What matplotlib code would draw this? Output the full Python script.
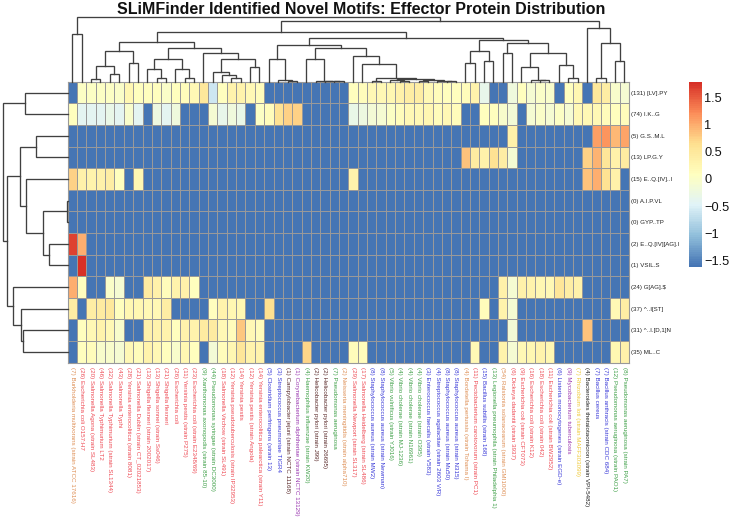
import matplotlib
matplotlib.use('Agg')
import numpy as np
import matplotlib.pyplot as plt
from matplotlib.colors import LinearSegmentedColormap

plt.rcParams['font.family'] = ['Liberation Sans', 'DejaVu Sans']

B = -1.61  # the solid blue cells

motifs = ['(131) [LV].PY', '(74) I.K..G', '(5) G.S..M.L', '(13) LP.G.Y', '(15) E..Q.[IV]..I',
          '(0) A.I.P.VL', '(0) GYP..TP', '(2) E..Q.[IV][AG].I', '(1) VSIL.S', '(24) G[AG].$',
          '(37) ^..I[ST]', '(31) ^..I.[D,1]N', '(35) ML..C']

strains = ['(7) Burkholderia multivorans (strain ATCC 17616)', '(26) Escherichia coli O157:H7',
           '(20) Salmonella Agona (strain SL483)', '(46) Salmonella Typhimurium LT2',
           '(32) Salmonella Typhimurium (strain SL1344)', '(43) Salmonella Typhi',
           '(28) Yersinia enterocolitica (strain 8081)', '(21) Salmonella Dublin (strain CT_02021853)',
           '(13) Shigella flexneri (strain 2002017)', '(13) Shigella sonnei (strain Ss046)',
           '(21) Shigella flexneri', '(26) Escherichia coli', '(11) Yersinia pestis (strain P275)',
           '(23) Escherichia coli (strain E2348/69)', '(9) Xanthomonas axonopodis (strain 85-10)',
           '(44) Pseudomonas syringae (strain DC3000)', '(18) Salmonella Virchow (strain SL491)',
           '(12) Yersinia pseudotuberculosis (strain IP32953)', '(14) Yersinia pestis',
           '(12) Yersinia pestis (strain Angola)', '(14) Yersinia enterocolitica palearctica (strain Y11)',
           '(5) Clostridium perfringens (strain 13)', '(3) Streptococcus pneumoniae TIGR4',
           '(1) Campylobacter jejuni (strain NCTC 11168)', '(1) Corynebacterium diphtheriae (strain NCTC 13129)',
           '(4) Haemophilus influenzae (strain KW20)', '(2) Helicobacter pylori (strain J99)',
           '(2) Helicobacter pylori (strain 26695)', '(7) Pseudomonas aeruginosa',
           '(2) Neisseria meningitidis (strain alpha710)', '(29) Salmonella Newport (strain SL317)',
           '(17) Salmonella Heidelberg (strain SL486)', '(8) Staphylococcus aureus (strain MW2)',
           '(8) Staphylococcus aureus (strain Newman)', '(5) Vibrio vulnificus (strain YJ016)',
           '(4) Vibrio cholerae (strain MJ-1236)', '(4) Vibrio cholerae (strain N16961)',
           '(4) Vibrio cholerae (strain O395)', '(3) Enterococcus faecalis (strain V583)',
           '(4) Streptococcus agalactiae (strain 2603 V/R)', '(8) Staphylococcus aureus (strain Mu50)',
           '(8) Staphylococcus aureus (strain N315)', '(4) Bordetella pertussis (strain Tohama I)',
           '(11) Pectobacterium carotovorum (strain PC1)', '(15) Bacillus subtilis (strain 168)',
           '(13) Legionella pneumophila (strain Philadelphia 1)', '(54) Ralstonia solanacearum (strain GMI1000)',
           '(6) Dickeya dadantii (strain 3937)', '(9) Escherichia coli (strain CFT073)',
           '(16) Escherichia coli (strain K12)', '(18) Escherichia coli (strain 042)',
           '(11) Escherichia coli (strain BW2952)', '(6) Listeria monocytogenes (strain EGD-e)',
           '(9) Mycobacterium tuberculosis', '(7) Rhizobium loti (strain MAFF303099)',
           '(4) Bacteroides thetaiotaomicron (strain VPI-5482)', '(7) Bacillus cereus',
           '(7) Bacillus anthracis (strain CDC 684)', '(12) Pseudomonas aeruginosa (strain PAO1)',
           '(8) Pseudomonas aeruginosa (strain PA7)']

# one colour group per strain, left to right
strain_groups = list('o' + 'r' * 13 + 'gg' + 'r' * 5 + 'bb' + 'kpgkkgorrbb' + 'gggg' + 'bbbb'
                     + 'orbgor' + 'rrrr' + 'bpynbbgg')
group_colours = {'o': '#DE8F55', 'r': '#EE4B55', 'g': '#3FA048', 'b': '#3A3AD8', 'p': '#9A38B0',
                 'k': '#5A2A2A', 'y': '#EFC93A', 'n': '#222222'}

row1 = [B, .05, .05, .05, .05, 0, .25, .1, .1, .1, 0, .1, .15, .2, .5, -.6, .1, .3, .3, .2, .15,
        B, B, B, B, B, B, B, B, B, .1, .15, .2, .2, .25, .35, .4, .4, .2, .15, .1, .1, .15, .3,
        -.35, B, B, -.2, .1, -.1, 0, -.05, B, .1, .25, B, .5, .4, -.05, -.1]
row2 = [.1, -.4, -.4, -.4, -.3, -.4, -.05, -.4, B, -.25, -.4, -.2, B, B, B, -.1, -.35, -.2, -.3, B, .05,
        .15, .6, .75, .75, B, B, B, B, B, -.3, -.25, -.15, -.1, .05, .15, .2, .2, .25, .15, .2, .15,
        B, B, .1, .1, -.05, -.15, B, -.1, 0, -.1, .05, -.1, .2, .2, .2, .15, .1, .15]
row3 = [B] * 47 + [.35] + [B] * 8 + [1.1, 1.15, .9, 1.05]
row4 = [B] * 42 + [.85, .45, .35, .6, .4, -.1] + [B] * 7 + [.75, .95, .55, .35, .45]
row5 = [.75, .35, .3, .35, .4, .1, B, .25] + [B] * 22 + [.3] + [B] * 24 + [.85, 1.0, .6, .35, B]
row6 = [B] * 60
row7 = [B] * 60
row8 = [1.65, 1.0] + [B] * 58
row9 = [B, 1.75] + [B] * 58
row10 = [1.0, .1, B, B, 0, -.1, B, B, .45, .35, .15, .3, .35, .1] + [B] * 32 + \
        [.35, -.1, .35, .3, .25, .2, .55, .4, .35] + [B] * 5
row11 = [.4, B, .4, .45, .5, .1, .25, .25, .2, .2, .4, B, B, B, B, .1, .3, .25, .25, B, B, .65] + [B] * 22 + \
        [.15, B, .3, -.1] + [B] * 10 + [.2, .4]
row12 = [B, .1, .2, .3, .2, -.05, B, B, .35, .3, .3, .1, .3, .3, .45, .45, .2, .15, .8, .2, .15] + [B] * 26 + \
        [-.15] + [B] * 7 + [.85] + [B] * 4
row13 = [B, .1, .15, -.05, -.05, -.1, .2, .15, .3, .2, .1, -.05, .25, .1, B, -.15, .15, .25, .55, .3, .3,
         B, B, B, B, .7, B, B, B, B, .15, .15] + [B] * 11 + [.2, B, B, .3, -.1, .2, .25, .3, .25] + [B] * 6 + [.25, .35]

# dendrogram merges written as (height, left, right), leaves are 1-based positions
rows_tree = (65, (42.7, 1, 2),
             (61, (47.7, (32, 3, 4), (42, 5, (24.4, (0.3, 6, 7), (18.4, 8, 9)))),
              (55, 10, (46.7, 11, (44.7, 12, 13)))))

c3_8 = (31, (15.3, (3, 3, 4), (7.7, 5, 6)), (19, 7, 8))
c9_14 = (23, (12.3, 9, (4, 10, 11)), (13, 12, (4, 13, 14)))
c16_19 = (9.7, 16, (6.3, 17, (4, 18, 19)))
c15_21 = (28.7, 15, (22.3, c16_19, (14.3, 20, 21)))
c3_21 = (39.3, c3_8, (34, c9_14, c15_21))
c22_25 = (22.7, 22, (1.3, 23, (0.5, 24, 25)))
c26_30 = (22.3, 26, (0.2, 27, (0.2, 28, (0.2, 29, 30))))
c33_42 = (4, (1, 33, 34), (2.7, (1.5, 35, (0.7, 36, 37)), (2, (1, 38, 39), (1, 40, (0.5, 41, 42)))))
c31_42 = (25.7, 31, (18, 32, c33_42))
c22_42 = (36.7, c22_25, (33.7, c26_30, c31_42))
c43_46 = (31, (18.7, 43, 44), (21, 45, 46))
c49_52 = (15, 49, (2, 50, (1.5, 51, 52)))
c53_55 = (17, 53, (4, 54, 55))
c47_55 = (38.3, (28.3, 47, 48), (29, c49_52, c53_55))
c22_55 = (44.2, c22_42, (41.7, c43_46, c47_55))
c56_60 = (53.3, 56, (38.3, (4, 57, 58), (20.7, 59, 60)))
cols_tree = (64.7, (47.7, 1, 2), (61, (49.7, c3_21, c22_55), c56_60))

bar_ticks = [-1.5, -1, -0.5, 0, 0.5, 1, 1.5]
bar_labels = ['\u22121.5', '\u22121', '\u22120.5', '0', '0.5', '1', '1.5']

W, H = 730, 518


def pix_axes(fig, x0, y0, x1, y1):
    # axes from pixel box, y measured from the top
    return fig.add_axes([x0 / W, 1 - y1 / H, (x1 - x0) / W, (y1 - y0) / H])


def draw_tree(ax, node, horizontal):
    if not isinstance(node, tuple):
        return node - 0.5, 0
    h, a, b = node
    pa, ha = draw_tree(ax, a, horizontal)
    pb, hb = draw_tree(ax, b, horizontal)
    xs, ys = [pa, pa, pb, pb], [ha, h, h, hb]
    if horizontal:
        xs, ys = ys, xs
    ax.plot(xs, ys, color='#404040', lw=0.95, solid_joinstyle='miter', clip_on=False)
    return (pa + pb) / 2, h


matrix = np.array([row1, row2, row3, row4, row5, row6, row7, row8, row9, row10, row11, row12, row13])
cmap = LinearSegmentedColormap.from_list(
    'rdylbu', ['#4575B4', '#91BFDB', '#E0F3F8', '#FFFFBF', '#FEE090', '#FC8D59', '#D73027'], N=100)
vmin, vmax = -1.61, 1.78

fig = plt.figure(figsize=(W / 100, H / 100), dpi=100)

hm = pix_axes(fig, 67.7, 81.7, 629, 362.7)
hm.pcolormesh(np.arange(61), np.arange(14), matrix, cmap=cmap, vmin=vmin, vmax=vmax,
              edgecolors='#999999', linewidth=0.6)
hm.set_xlim(0, 60)
hm.set_ylim(13, 0)
for s in hm.spines.values():
    s.set_color('#999999')
    s.set_linewidth(0.8)
hm.xaxis.tick_bottom()
hm.set_xticks(np.arange(60) + 0.5)
hm.set_xticklabels(strains, rotation=270, ha='center', va='top', fontsize=4.5)
for lab, g in zip(hm.get_xticklabels(), strain_groups):
    lab.set_color(group_colours[g])
hm.yaxis.tick_right()
hm.set_yticks(np.arange(13) + 0.5)
hm.set_yticklabels(motifs, fontsize=4.4, color='#222222')
hm.tick_params(axis='both', length=0)
hm.tick_params(axis='x', pad=3.2)
hm.tick_params(axis='y', pad=1.5)

top = pix_axes(fig, 67.7, 15.7, 629, 81.7)
draw_tree(top, cols_tree, False)
top.set_xlim(0, 60)
top.set_ylim(0, 66)
top.axis('off')

left = pix_axes(fig, 1.7, 81.7, 67.7, 362.7)
draw_tree(left, rows_tree, True)
left.set_ylim(13, 0)
left.set_xlim(66, 0)
left.axis('off')

bar = pix_axes(fig, 689, 82, 701.7, 266.7)
levels = np.linspace(vmin, vmax, 101)
bar.pcolormesh([0, 1], levels, np.linspace(vmin, vmax, 100).reshape(-1, 1), cmap=cmap, vmin=vmin, vmax=vmax)
bar.set_ylim(vmin, vmax)
bar.set_xticks([])
bar.yaxis.tick_right()
bar.set_yticks(bar_ticks)
bar.set_yticklabels(bar_labels, fontsize=9.2, color='#111111')
bar.tick_params(axis='y', length=0, pad=2)
for s in bar.spines.values():
    s.set_visible(False)

fig.text(361 / W, 1 - 9 / H, 'SLiMFinder Identified Novel Motifs: Effector Protein Distribution',
         ha='center', va='center', fontsize=11.5, fontweight='bold', color='#111111')

plt.savefig('out.png', dpi=100)
